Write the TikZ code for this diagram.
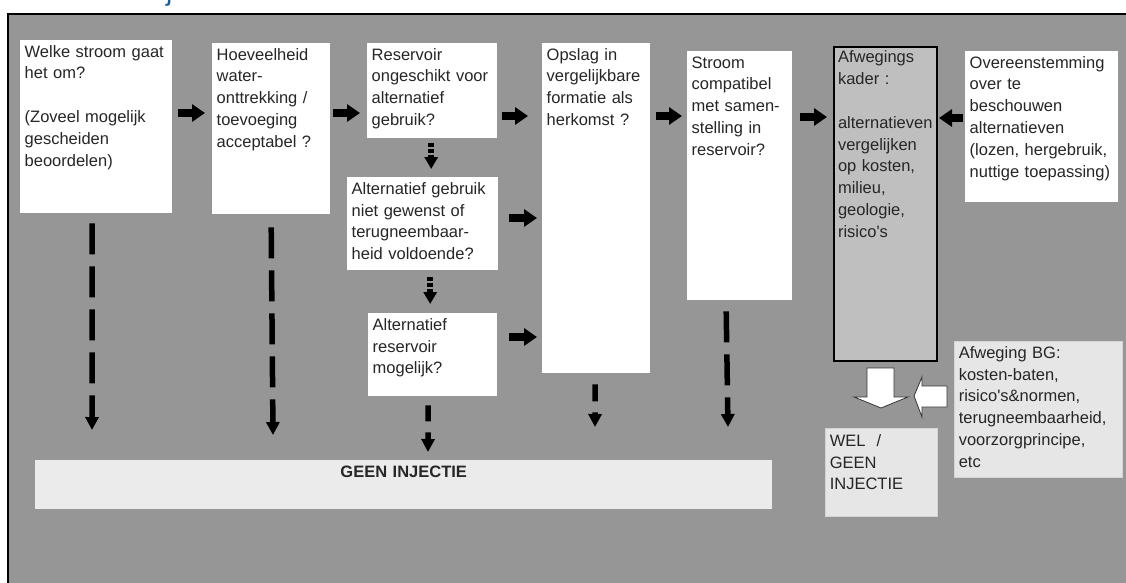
\documentclass[tikz,border=0pt]{standalone}
\usepackage{fontspec}
\setmainfont{Liberation Sans}
\usetikzlibrary{arrows.meta,calc}
\definecolor{bggray}{HTML}{969696}
\definecolor{kaderfill}{HTML}{BFBFBF}
\definecolor{barfill}{HTML}{EBEBEB}
\definecolor{notefill}{HTML}{E6E6E6}
\definecolor{noteline}{HTML}{D4D4D4}
\definecolor{headblue}{HTML}{1B5E95}
\newcommand{\apo}{\textquotesingle}
\begin{document}
\hyphenpenalty=10000
\exhyphenpenalty=10000
\begin{tikzpicture}[x=1pt,y=-1pt,
  txt/.style={font=\fontsize{16.5}{21.8}\selectfont, text=black!85},
  box/.style={txt, fill=white, anchor=north west, inner xsep=4.5pt, inner ysep=0pt, align=left, text height=17pt},
  notebox/.style={box, fill=notefill, draw=noteline, line width=0.6pt},
  blk/.style={line width=8pt, -{Triangle[length=13pt,width=17pt]}},
  dotarr/.style={line width=6pt, dash pattern=on 4pt off 2pt, -{Triangle[length=12pt,width=13pt]}},
  longdash/.style={line width=5.5pt, dash pattern=on 31pt off 12pt, -{Triangle[length=13pt,width=13pt]}},
  shortdash/.style={line width=5.5pt, dash pattern=on 16pt off 11pt, -{Triangle[length=13pt,width=13pt]}},
  hollow/.style={fill=white, draw=black!80, line width=0.8pt, line join=miter}
]
\useasboundingbox (0,0) rectangle (1126,583);
\fill[white] (0,0) rectangle (1126,583);
\fill[bggray] (8,14) rectangle (1126,583);
\draw[black, line width=2pt] (8,583) -- (8,14) -- (1126,14);

% clipped fragment of a heading above the frame
\begin{scope}
  \clip (0,0) rectangle (1126,12);
  \node[anchor=base west, inner sep=0pt, font=\fontsize{28}{30}\selectfont, text=headblue] (frag) at (166,0.5) {j};
\end{scope}

% white question boxes
\node[box, text width=143pt, text depth=156pt] (b1) at (20,40)
  {Welke stroom gaat\\het om?\\\mbox{}\\(Zoveel mogelijk\\gescheiden\\beoordelen)};
\node[box, text width=109pt, text depth=154pt] (b2) at (212,43)
  {Hoeveelheid\\water-\\onttrekking /\\toevoeging\\acceptabel ?};
\node[box, text width=121pt, text depth=78pt] (b3) at (367,43)
  {Reservoir\\ongeschikt voor\\alternatief\\gebruik?};
\node[box, text width=99pt, text depth=313pt] (b4) at (542,43)
  {Opslag in\\vergelijkbare\\formatie als\\herkomst ?};
\node[box, text width=96pt, text depth=232pt] (b5) at (687,51)
  {Stroom\\compatibel\\met samen-\\stelling in\\reservoir?};
\node[box, text width=142pt, text depth=76pt] (b6) at (347,177)
  {Alternatief gebruik\\niet gewenst of\\terugneembaar-\\heid voldoende?};
\node[box, text width=120pt, text depth=66pt] (b7) at (368,313)
  {Alternatief\\reservoir\\mogelijk?};
\node[box, fill=kaderfill, draw=black, line width=2pt, inner xsep=4pt, text width=95pt, text height=16pt, text depth=298pt] (kader) at (833,46)
  {Afwegings\\kader :\\\mbox{}\\alternatieven\\vergelijken\\op kosten,\\milieu,\\geologie,\\risico\apo s};
\node[box, text width=144pt, text depth=134pt] (over) at (965,51)
  {Overeenstemming\\over te\\beschouwen\\alternatieven\\(lozen, hergebruik,\\nuttige toepassing)};

% grey outcome boxes
\node[box, fill=barfill, align=center, text width=728pt, text depth=32pt, font=\fontsize{16.5}{21.8}\selectfont\bfseries] (geen) at (35,460)
  {GEEN INJECTIE};
\node[notebox, text width=103pt, text height=18pt, text depth=70pt] (wel) at (825,428)
  {WEL~~/\\GEEN\\INJECTIE};
\node[notebox, text width=159pt, text depth=119pt] (bg) at (954,341)
  {Afweging BG:\\kosten-baten,\\risico\apo s\&normen,\\terugneembaarheid,\\voorzorgprincipe,\\etc};

% block arrows
\draw[blk] ($(b1.north east)+(6,73)$) -- ($(b2.north west)+(-7,70)$);
\draw[blk] ($(b2.north east)+(3,70)$) -- ($(b3.north west)+(-7,70)$);
\draw[blk] ($(b3.north east)+(5,73)$) -- ($(b4.north west)+(-14,73)$);
\draw[blk] ($(b4.north east)+(6,73)$) -- ($(b5.north west)+(-5,65)$);
\draw[blk] ($(b6.north east)+(11,41)$) -- ($(b4.north west)+(-5,175)$);
\draw[blk] ($(b7.north east)+(12,24)$) -- ($(b4.north west)+(-5,294)$);
\draw[blk] ($(b5.north east)+(8,66)$) -- ($(kader.north west)+(-6,71)$);
\draw[blk] ($(over.north west)+(-2,67)$) -- ($(kader.north east)+(1,72)$);

% dotted arrows
\draw[dotarr] ($(b3.south)+(-1,5)$) -- ($(b6.north)+(8.5,-8)$);
\draw[dotarr] ($(b6.south)+(7.5,7)$) -- ($(b7.north)+(-2.5,-9)$);

% dashed arrows to GEEN INJECTIE
\draw[longdash] ($(b1.south)+(-4,10)$) -- ($(geen.north west)+(57,-30)$);
\draw[longdash] ($(b2.south)+(0,13)$) -- ($(geen.north west)+(238,-25)$);
\draw[shortdash] ($(b7.south)+(-4.5,9)$) -- ($(geen.north west)+(393,-8)$);
\draw[shortdash, dash pattern=on 17pt off 11pt] ($(b4.south)+(-1,11)$) -- ($(geen.north west)+(560,-33)$);
\draw[longdash] ($(b5.south)+(-13.5,11)$) -- ($(geen.north west)+(693,-33)$);

% hollow block arrows
\draw[hollow] (867,368) -- (894,368) -- (894,397) -- (908,397) -- (881,408) -- (854,397) -- (867,397) -- cycle;
\draw[hollow] (947,386) -- (947,407) -- (922,407) -- (922,417) -- (914,396) -- (922,377) -- (922,386) -- cycle;
\end{tikzpicture}
\end{document}
